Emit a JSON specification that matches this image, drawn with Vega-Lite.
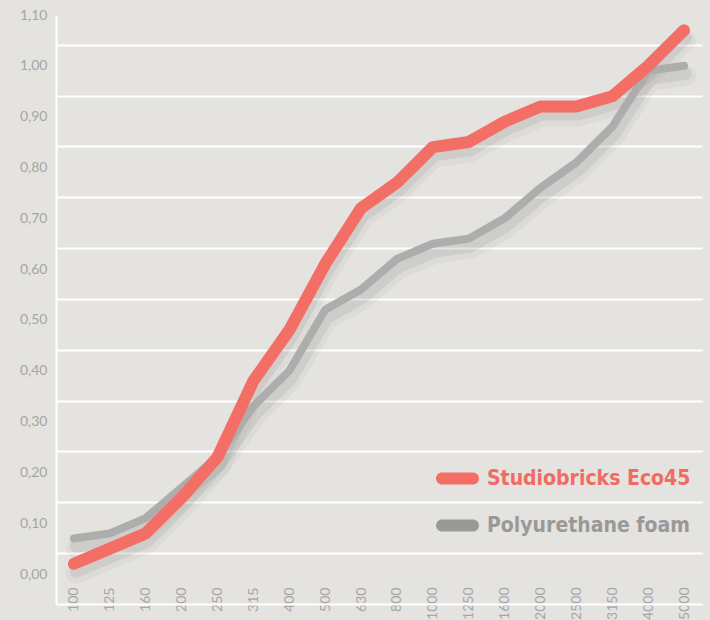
{
  "$schema": "https://vega.github.io/schema/vega-lite/v6.json",
  "width": 646,
  "height": 589,
  "autosize": "none",
  "padding": {"left": 56, "top": 15, "right": 8, "bottom": 16},
  "background": "#E4E3DF",
  "config": {"view": {"stroke": null}},
  "data": {
    "values": [
      {"freq": "100", "material": "Studiobricks Eco45", "alpha": 0.02},
      {"freq": "125", "material": "Studiobricks Eco45", "alpha": 0.05},
      {"freq": "160", "material": "Studiobricks Eco45", "alpha": 0.08},
      {"freq": "200", "material": "Studiobricks Eco45", "alpha": 0.15},
      {"freq": "250", "material": "Studiobricks Eco45", "alpha": 0.23},
      {"freq": "315", "material": "Studiobricks Eco45", "alpha": 0.38},
      {"freq": "400", "material": "Studiobricks Eco45", "alpha": 0.48},
      {"freq": "500", "material": "Studiobricks Eco45", "alpha": 0.61},
      {"freq": "630", "material": "Studiobricks Eco45", "alpha": 0.72},
      {"freq": "800", "material": "Studiobricks Eco45", "alpha": 0.77},
      {"freq": "1000", "material": "Studiobricks Eco45", "alpha": 0.84},
      {"freq": "1250", "material": "Studiobricks Eco45", "alpha": 0.85},
      {"freq": "1600", "material": "Studiobricks Eco45", "alpha": 0.89},
      {"freq": "2000", "material": "Studiobricks Eco45", "alpha": 0.92},
      {"freq": "2500", "material": "Studiobricks Eco45", "alpha": 0.92},
      {"freq": "3150", "material": "Studiobricks Eco45", "alpha": 0.94},
      {"freq": "4000", "material": "Studiobricks Eco45", "alpha": 1.0},
      {"freq": "5000", "material": "Studiobricks Eco45", "alpha": 1.07},
      {"freq": "100", "material": "Polyurethane foam", "alpha": 0.07},
      {"freq": "125", "material": "Polyurethane foam", "alpha": 0.08},
      {"freq": "160", "material": "Polyurethane foam", "alpha": 0.11},
      {"freq": "200", "material": "Polyurethane foam", "alpha": 0.17},
      {"freq": "250", "material": "Polyurethane foam", "alpha": 0.23},
      {"freq": "315", "material": "Polyurethane foam", "alpha": 0.33},
      {"freq": "400", "material": "Polyurethane foam", "alpha": 0.40},
      {"freq": "500", "material": "Polyurethane foam", "alpha": 0.52},
      {"freq": "630", "material": "Polyurethane foam", "alpha": 0.56},
      {"freq": "800", "material": "Polyurethane foam", "alpha": 0.62},
      {"freq": "1000", "material": "Polyurethane foam", "alpha": 0.65},
      {"freq": "1250", "material": "Polyurethane foam", "alpha": 0.66},
      {"freq": "1600", "material": "Polyurethane foam", "alpha": 0.70},
      {"freq": "2000", "material": "Polyurethane foam", "alpha": 0.76},
      {"freq": "2500", "material": "Polyurethane foam", "alpha": 0.81},
      {"freq": "3150", "material": "Polyurethane foam", "alpha": 0.88},
      {"freq": "4000", "material": "Polyurethane foam", "alpha": 0.99},
      {"freq": "5000", "material": "Polyurethane foam", "alpha": 1.0}
    ]
  },
  "encoding": {
    "x": {
      "field": "freq",
      "type": "ordinal",
      "sort": null,
      "scale": {"type": "point", "padding": 0.5},
      "axis": {
        "title": null,
        "domain": true,
        "domainColor": "#FFFFFF",
        "domainWidth": 2,
        "ticks": false,
        "grid": false,
        "labelAngle": -90,
        "labelAlign": "right",
        "labelBaseline": "middle",
        "labelPadding": -17,
        "labelColor": "#A6A6A6",
        "labelFont": "Lato",
        "labelFontSize": 14
      }
    },
    "y": {
      "field": "alpha",
      "type": "quantitative",
      "scale": {"domain": [-0.059, 1.1], "nice": false, "zero": false},
      "axis": {
        "title": null,
        "values": [0, 0.1, 0.2, 0.3, 0.4, 0.5, 0.6, 0.7, 0.8, 0.9, 1.0, 1.1],
        "tickOffset": -21,
        "labelOffset": 21,
        "ticks": false,
        "domain": true,
        "domainColor": "#FFFFFF",
        "domainWidth": 2,
        "grid": true,
        "gridColor": "#FFFFFF",
        "gridWidth": 2,
        "gridOpacity": {"condition": {"test": "datum.value > 1.05", "value": 0}, "value": 1},
        "labelExpr": "replace(format(datum.value, '.2f'), '.', ',')",
        "labelColor": "#A6A6A6",
        "labelFont": "Lato",
        "labelFontSize": 14,
        "labelPadding": 9
      }
    }
  },
  "layer": [
    {
      "mark": {"type": "line", "color": "#6E6E6E", "opacity": 0.06, "strokeWidth": 20, "yOffset": 10, "xOffset": 2, "strokeCap": "round", "strokeJoin": "round"},
      "encoding": {"detail": {"field": "material"}}
    },
    {
      "mark": {"type": "line", "color": "#6E6E6E", "opacity": 0.12, "strokeWidth": 12, "yOffset": 8, "xOffset": 2, "strokeCap": "round", "strokeJoin": "round"},
      "encoding": {"detail": {"field": "material"}}
    },
    {
      "transform": [{"filter": "datum.material === 'Polyurethane foam'"}],
      "mark": {"type": "line", "strokeWidth": 8, "strokeCap": "round", "strokeJoin": "round"},
      "encoding": {
        "color": {
          "field": "material",
          "type": "nominal",
          "scale": {"domain": ["Studiobricks Eco45", "Polyurethane foam"], "range": ["#F36F66", "#ADADAD"]},
          "legend": {
            "title": null,
            "orient": "none",
            "legendX": 380,
            "legendY": 442,
            "padding": 0,
            "symbolType": "M -0.72 -0.28 L 0.72 -0.28 A 0.28 0.28 0 0 1 0.72 0.28 L -0.72 0.28 A 0.28 0.28 0 0 1 -0.72 -0.28 Z",
            "symbolSize": 1849,
            "symbolStrokeWidth": 0,
            "symbolFillColor": {"expr": "datum.value === 'Polyurethane foam' ? '#999999' : '#F36F66'"},
            "symbolStrokeColor": {"expr": "datum.value === 'Polyurethane foam' ? '#999999' : '#F36F66'"},
            "rowPadding": 15,
            "labelOffset": 8,
            "labelFont": "DejaVu Sans Condensed, Roboto",
            "labelFontWeight": "bold",
            "labelFontSize": 21,
            "labelColor": {"expr": "datum.value === 'Polyurethane foam' ? '#999999' : '#F26B63'"},
            "labelLimit": 400
          }
        }
      }
    },
    {
      "transform": [{"filter": "datum.material === 'Studiobricks Eco45'"}],
      "mark": {"type": "line", "strokeWidth": 12, "strokeCap": "round", "strokeJoin": "round"},
      "encoding": {
        "color": {"field": "material", "type": "nominal"}
      }
    }
  ]
}
